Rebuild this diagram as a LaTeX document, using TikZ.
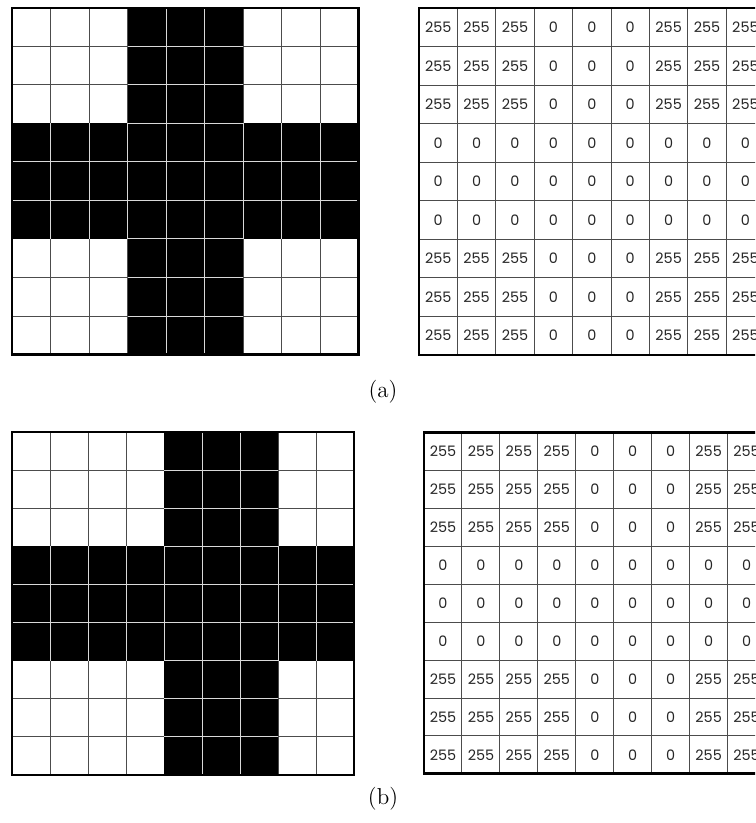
\documentclass[tikz,border=0pt]{standalone}
\usepackage{fontspec}
\newfontfamily\numfont{Poppins}
\begin{document}
\begin{tikzpicture}[x=0.5pt,y=-0.5pt,
  cellnum/.style={font=\numfont\fontsize{7.2}{9}\selectfont, inner sep=0pt, text=black!85},
  gridline/.style={draw=black!70, line width=0.5pt},
  inverseline/.style={draw=white!85!black, line width=0.5pt},
  frame/.style={draw=black, line width=1.4pt},
  tableline/.style={draw=black!70, line width=0.5pt},
  caption/.style={font=\fontsize{11.5}{14}\selectfont, inner sep=0pt}]
\clip (0,0) rectangle (755,823);
\fill[white] (0,0) rectangle (755,823);

% ---------- (a) pixel grid ----------
\begin{scope}[shift={(12,8)}, x=19.25pt, y=-19.25pt]
  \foreach \i in {1,...,8} {
    \draw[gridline] (\i,0) -- (\i,9);
    \draw[gridline] (0,\i) -- (9,\i);
  }
  \fill[black] (3,0) rectangle (6,9);
  \fill[black] (0,3) rectangle (9,6);
  \foreach \i in {1,...,8} {
    \draw[inverseline] (\i,3) -- (\i,6);
    \draw[inverseline] (3,\i) -- (6,\i);
  }
  \foreach \i in {4,5} {
    \draw[inverseline] (\i,0) -- (\i,9);
    \draw[inverseline] (0,\i) -- (9,\i);
  }
  \draw[frame] (0,0) rectangle (9,9);
\end{scope}

% ---------- (a) value table ----------
\begin{scope}[shift={(419,8)}, x=19.2pt, y=-19.275pt]
  \foreach \r in {0,...,8} {
    \foreach \c in {0,...,8} {
      \pgfmathtruncatemacro\isblack{((\r>2 && \r<6) || (\c>2 && \c<6)) ? 1 : 0}
      \node[cellnum] (ta-\r-\c) at (\c+0.5,\r+0.5) {\ifnum\isblack=1 0\else 255\fi};
    }
  }
  \foreach \i in {1,...,8} {
    \draw[tableline] (\i,0) -- (\i,9);
    \draw[tableline] (0,\i) -- (9,\i);
  }
  \draw[frame] (0,0) rectangle (9,9);
\end{scope}

\node[caption] (capa) at (383,392) {(a)};

% ---------- (b) pixel grid ----------
\begin{scope}[shift={(12,432)}, x=19pt, y=-19.05pt]
  \foreach \i in {1,...,8} {
    \draw[gridline] (\i,0) -- (\i,9);
    \draw[gridline] (0,\i) -- (9,\i);
  }
  \fill[black] (4,0) rectangle (7,9);
  \fill[black] (0,3) rectangle (9,6);
  \foreach \i in {1,...,8} {
    \draw[inverseline] (\i,3) -- (\i,6);
    \draw[inverseline] (4,\i) -- (7,\i);
  }
  \foreach \i in {5,6} {
    \draw[inverseline] (\i,0) -- (\i,9);
  }
  \foreach \i in {4,5} {
    \draw[inverseline] (0,\i) -- (9,\i);
  }
  \draw[frame] (0,0) rectangle (9,9);
\end{scope}

% ---------- (b) value table ----------
\begin{scope}[shift={(424,432.7)}, x=18.975pt, y=-18.95pt]
  \foreach \r in {0,...,8} {
    \foreach \c in {0,...,8} {
      \pgfmathtruncatemacro\isblack{((\r>2 && \r<6) || (\c>3 && \c<7)) ? 1 : 0}
      \node[cellnum] (tb-\r-\c) at (\c+0.5,\r+0.5) {\ifnum\isblack=1 0\else 255\fi};
    }
  }
  \foreach \i in {1,...,8} {
    \draw[tableline] (\i,0) -- (\i,9);
    \draw[tableline] (0,\i) -- (9,\i);
  }
  \draw[frame] (0,0) rectangle (9,9);
\end{scope}

\node[caption] (capb) at (383,799) {(b)};
\end{tikzpicture}
\end{document}
